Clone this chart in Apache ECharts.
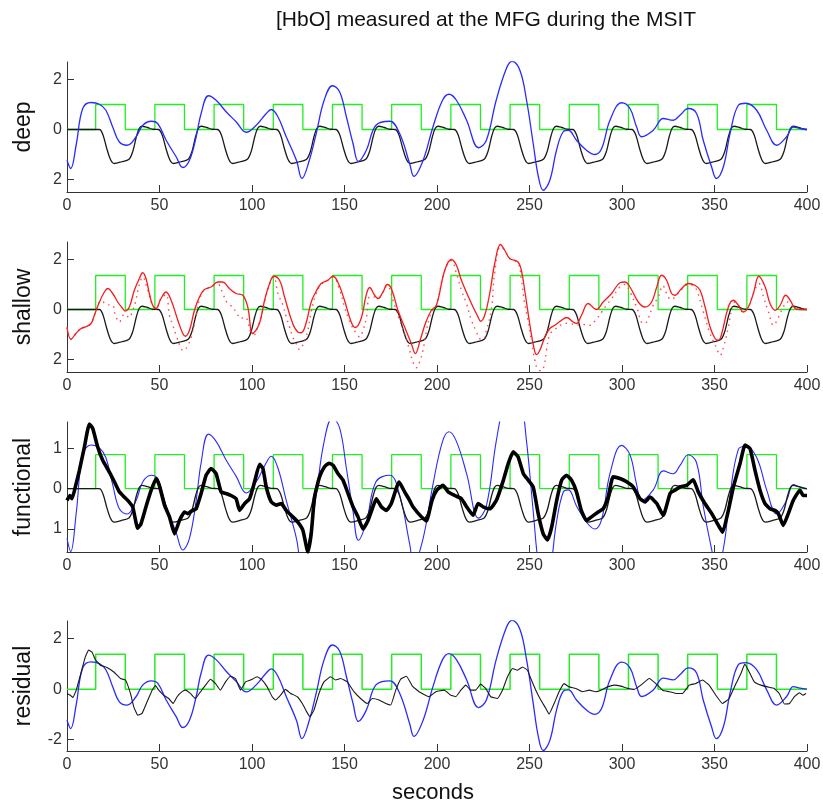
<!DOCTYPE html>
<html>
<head>
<meta charset="utf-8">
<script src="https://cdn.jsdelivr.net/npm/echarts@6/dist/echarts.min.js"></script>
<style>
html,body{margin:0;padding:0;background:#fff;}
#chart{width:823px;height:803px;}
</style>
</head>
<body>
<div id="chart"></div>
<script>
// ---- data ----
const xTicks = [0, 50, 100, 150, 200, 250, 300, 350, 400];
const blockOn  = [15.5, 47.5, 79.5, 111.5, 143.5, 175.5, 207.5, 239.5, 271.5, 303.5, 335.5, 367.5];
const blockOff = [31.5, 63.5, 95.5, 127.5, 159.5, 191.5, 223.5, 255.5, 287.5, 319.5, 351.5, 383.5];
const boxHeight = [1.0, 1.36, 0.84, 1.38];   // green stimulus height in each panel
const funcModelScale = 0.61;                 // model amplitude in the functional panel

const model = [
[0,0],
[17.5,0],[19.5,-0.23],[21.5,-0.76],[23.5,-1.2],[25.5,-1.36],[29.5,-1.29],[33.5,-1.19],[35.5,-0.89],[37.5,-0.29],[39,0.04],[40.5,0.13],[43.5,0.08],[46.5,0.01],
[49.5,0],[51.5,-0.23],[53.5,-0.76],[55.5,-1.2],[57.5,-1.36],[61.5,-1.29],[65.5,-1.19],[67.5,-0.89],[69.5,-0.29],[71,0.04],[72.5,0.13],[75.5,0.08],[78.5,0.01],
[81.5,0],[83.5,-0.23],[85.5,-0.76],[87.5,-1.2],[89.5,-1.36],[93.5,-1.29],[97.5,-1.19],[99.5,-0.89],[101.5,-0.29],[103,0.04],[104.5,0.13],[107.5,0.08],[110.5,0.01],
[113.5,0],[115.5,-0.23],[117.5,-0.76],[119.5,-1.2],[121.5,-1.36],[125.5,-1.29],[129.5,-1.19],[131.5,-0.89],[133.5,-0.29],[135,0.04],[136.5,0.13],[139.5,0.08],[142.5,0.01],
[145.5,0],[147.5,-0.23],[149.5,-0.76],[151.5,-1.2],[153.5,-1.36],[157.5,-1.29],[161.5,-1.19],[163.5,-0.89],[165.5,-0.29],[167,0.04],[168.5,0.13],[171.5,0.08],[174.5,0.01],
[177.5,0],[179.5,-0.23],[181.5,-0.76],[183.5,-1.2],[185.5,-1.36],[189.5,-1.29],[193.5,-1.19],[195.5,-0.89],[197.5,-0.29],[199,0.04],[200.5,0.13],[203.5,0.08],[206.5,0.01],
[209.5,0],[211.5,-0.23],[213.5,-0.76],[215.5,-1.2],[217.5,-1.36],[221.5,-1.29],[225.5,-1.19],[227.5,-0.89],[229.5,-0.29],[231,0.04],[232.5,0.13],[235.5,0.08],[238.5,0.01],
[241.5,0],[243.5,-0.23],[245.5,-0.76],[247.5,-1.2],[249.5,-1.36],[253.5,-1.29],[257.5,-1.19],[259.5,-0.89],[261.5,-0.29],[263,0.04],[264.5,0.13],[267.5,0.08],[270.5,0.01],
[273.5,0],[275.5,-0.23],[277.5,-0.76],[279.5,-1.2],[281.5,-1.36],[285.5,-1.29],[289.5,-1.19],[291.5,-0.89],[293.5,-0.29],[295,0.04],[296.5,0.13],[299.5,0.08],[302.5,0.01],
[305.5,0],[307.5,-0.23],[309.5,-0.76],[311.5,-1.2],[313.5,-1.36],[317.5,-1.29],[321.5,-1.19],[323.5,-0.89],[325.5,-0.29],[327,0.04],[328.5,0.13],[331.5,0.08],[334.5,0.01],
[337.5,0],[339.5,-0.23],[341.5,-0.76],[343.5,-1.2],[345.5,-1.36],[349.5,-1.29],[353.5,-1.19],[355.5,-0.89],[357.5,-0.29],[359,0.04],[360.5,0.13],[363.5,0.08],[366.5,0.01],
[369.5,0],[371.5,-0.23],[373.5,-0.76],[375.5,-1.2],[377.5,-1.36],[381.5,-1.29],[385.5,-1.19],[387.5,-0.89],[389.5,-0.29],[391,0.04],[392.5,0.13],[395.5,0.08],[398.5,0.01],[400,0]
];

const deep = [
[0,-1.23],[2,-1.56],[5,-0.6],[8.5,0.84],[13,1.08],[17.5,1.01],[21,0.77],[24.7,0.1],[28.3,-0.5],[32.5,-0.63],[37.3,-0.3],[41,0.17],[45.5,0.33],[49,0.24],[53.6,-0.43],[59,-1.09],[62.6,-1.52],[66.2,-1.23],[69.8,-0.3],[72.5,0.64],[76.5,1.35],[80.6,1.17],[86,0.71],[91.4,0.31],[96.9,-0.11],[102.3,0.17],[107.7,0.64],[110.4,0.8],[114,0.51],[118.5,-0.29],[124,-1.23],[127,-1.96],[131,-1.23],[134.7,-0.16],[139,1.17],[143.5,1.75],[147.4,1.5],[151,0.51],[154.6,-0.56],[157.5,-1.28],[161.8,-0.83],[167,0.17],[174.5,0.33],[179.8,-0.16],[185.2,-1.36],[187.5,-1.87],[192.5,-1.23],[197.8,0.1],[203,1.17],[206.5,1.41],[210.5,1.17],[216,0.37],[222.5,-0.73],[226.7,-0.43],[232,1.17],[237.5,2.44],[240.5,2.73],[244.8,2.37],[248.4,1.17],[252,-0.56],[254.8,-1.89],[257.4,-2.43],[261,-2.03],[264.6,-0.83],[268.2,-0.09],[271,-0.03],[275.4,-0.43],[280.8,-0.83],[285.3,-1.0],[289,-0.76],[293.5,0.37],[299.8,1.07],[304.3,0.84],[307.9,0.1],[310.6,-0.29],[316.9,-0.03],[322.3,0.44],[327.7,0.37],[331.3,0.57],[335.8,0.84],[340.3,0.64],[343.9,-0.43],[348.4,-1.49],[351,-1.96],[354.8,-1.49],[358.4,-0.16],[362.9,0.97],[367,1.05],[372.8,0.77],[378.2,-0.03],[383.6,-0.63],[389,-0.29],[392.6,0.1],[396.2,0.04],[400,0]
];

const shallow = [
[0,-0.72],[2.2,-1.19],[4.8,-0.96],[7.6,-0.76],[10.3,-0.69],[13,-0.56],[14.8,-0.23],[17.5,0.3],[20.2,0.7],[22,0.84],[24.7,0.64],[27.4,0.3],[30.1,0.04],[31.5,-0.06],[33.7,0.1],[36.4,0.77],[39.1,1.24],[40.9,1.47],[42.7,1.24],[44.5,0.64],[46.3,0.17],[48.1,0.04],[50.8,0.44],[53.5,0.7],[56.3,0.37],[59.9,-0.43],[62.6,-0.96],[64,-1.07],[66.2,-0.83],[68.9,-0.03],[71.6,0.5],[74.3,0.8],[77.9,0.9],[81.5,1.1],[84.2,1.1],[87.8,0.84],[91.4,0.64],[95,0.57],[97.7,0.1],[100.4,-0.96],[104,-0.56],[106.8,0.37],[109.5,1.04],[111.8,1.33],[114.9,1.17],[117.6,0.5],[122,-0.56],[124.8,-0.9],[126.6,-0.93],[129,-0.6],[132,0.3],[134.5,0.7],[137.4,1.04],[141,1.17],[143.8,1.33],[146.4,1.1],[150,0.37],[153.6,-0.5],[155.8,-0.72],[159,-0.36],[161.7,0.57],[163.6,0.88],[166.3,0.57],[168.1,0.44],[170.8,0.7],[173.1,1.0],[175.3,0.84],[178.9,-0.03],[182.5,-0.7],[186.1,-1.36],[188.3,-1.76],[191,-1.2],[194,-0.5],[197,-0.03],[199.7,0.17],[204.2,1.57],[207.8,2.0],[210.5,1.77],[213.2,1.17],[218.6,0.24],[222.2,-0.3],[223.5,-0.47],[225.8,-0.23],[228.5,0.64],[231.2,1.84],[234.3,2.6],[236.6,2.37],[239.3,2.04],[243.8,1.9],[245.6,1.57],[247.4,0.77],[250.1,-0.56],[252.3,-1.5],[253.8,-1.8],[255.6,-1.63],[258.3,-1.1],[261,-0.76],[263.7,-0.63],[267.3,-0.43],[270,-0.32],[273.6,-0.5],[275.4,-0.56],[278.1,-0.23],[281.7,0.24],[286.2,0.0],[289.8,0.3],[294.4,0.64],[298.9,1.07],[301.6,1.1],[304.3,0.9],[308.8,0.3],[312.4,0.1],[316,0.3],[318.8,0.9],[321.4,1.37],[324.1,1.17],[326.8,0.64],[328.6,0.57],[332.2,0.84],[335.8,1.04],[339.4,0.97],[342.2,0.77],[344.9,0.1],[347.6,-0.7],[350.3,-1.16],[352.1,-1.23],[353.9,-0.96],[357.5,0.1],[360.2,0.37],[362.9,0.17],[365.6,-0.1],[368.3,0.1],[371,0.64],[374,1.33],[377.4,0.9],[380,0.24],[382.8,-0.03],[385.5,0.17],[388.5,0.57],[390.9,0.37],[393.6,0.04],[396,0.0],[400,0.0]
];

const shallowDotted = [
[0,-0.72],[2.2,-1.19],[4.8,-0.96],[7.6,-0.76],[10.3,-0.69],[13,-0.56],[14.8,-0.23],[17.5,0.3],[19,0.33],[21,0.2],[24.7,0.17],[25.6,-0.1],[28.3,-0.5],[31,-0.19],[33.7,-0.32],[35.2,-0.1],[37,0.3],[39.1,1.0],[41,1.3],[43.1,0.9],[44.5,0.57],[46.3,0.17],[48.1,0.04],[50.8,0.44],[53.5,0.6],[55.4,-0.23],[57.2,-0.63],[59,-1.03],[61.7,-1.56],[62.9,-1.65],[65.3,-1.43],[67.1,-1.1],[68.9,-0.56],[70.1,-0.1],[71.6,0.4],[74.3,0.8],[77.9,0.9],[81.5,1.0],[82.4,0.97],[84.2,0.64],[86.9,0.24],[89.6,0.1],[91.4,-0.1],[94.1,-0.36],[95.9,-0.3],[97.7,-0.45],[98.8,-0.83],[100.4,-0.96],[101.5,-1.0],[103,-0.7],[104.5,-0.4],[106.8,0.3],[109.5,1.0],[111.8,1.3],[114,0.64],[116.7,0.17],[118.5,-0.3],[120.3,-0.7],[122,-1.1],[123.9,-1.36],[125.7,-1.6],[128.5,-1.23],[130.2,-0.83],[132,-0.1],[134.5,0.6],[137.4,1.0],[141,1.17],[143.8,1.3],[147.4,0.77],[150,0.1],[151.9,-0.3],[153.7,-0.63],[156.4,-0.96],[158.2,-1.1],[160,-0.83],[161.9,-0.3],[163.6,0.5],[166.3,0.5],[168.1,0.44],[170.8,0.7],[173.1,0.95],[176.2,0.37],[179.8,-0.43],[182.5,-0.96],[185.2,-1.63],[187,-2.1],[188.8,-2.33],[190.6,-2.1],[192.4,-1.63],[194.2,-0.9],[196,-0.3],[197.5,-0.03],[199.7,0.17],[204.2,1.57],[207.8,1.95],[210.5,1.44],[213.2,0.77],[215.9,0.24],[218.6,-0.43],[221.3,-0.9],[223,-1.16],[224.9,-1.2],[226.7,-0.83],[229.4,0.0],[231.2,1.5],[234.3,2.5],[236.6,2.37],[239.3,2.04],[243.8,1.85],[245.6,1.17],[247.4,0.24],[249.2,-0.43],[251,-1.23],[252.8,-2.0],[254.5,-2.4],[256.5,-2.45],[258,-2.2],[259.2,-1.63],[261,-1.0],[263.7,-0.8],[267.3,-0.6],[271,-0.55],[275.4,-0.62],[279,-0.6],[282.6,-0.63],[286,-0.4],[289,-0.1],[291.6,0.17],[294.4,0.44],[298.9,0.9],[301.6,1.0],[304.3,0.7],[307.9,0.1],[311.5,-0.56],[313.3,-0.5],[316.9,0.17],[319.6,0.5],[322,0.95],[325,0.5],[326.8,0.4],[328.6,0.5],[332.2,0.8],[335.8,1.0],[338.5,0.95],[340.4,0.77],[344,-0.1],[347.6,-0.96],[351.2,-1.56],[353,-1.83],[354.9,-1.5],[357.5,-0.7],[359.3,0.0],[361,0.3],[362.9,0.17],[365.6,-0.1],[368.3,0.1],[371,0.64],[374,1.04],[376.5,0.5],[379.2,-0.1],[381.9,-0.63],[384.6,-0.3],[387.2,0.1],[389.1,0.3],[392.7,0.1],[396,0.0],[400,0.0]
];

const functional = [
[0,-0.29],[1.6,-0.17],[2.7,-0.25],[4.5,0.04],[6.7,0.45],[9.4,1.03],[12.1,1.6],[13.9,1.49],[16.6,1.03],[19.3,0.7],[22.9,0.41],[25.6,0.17],[28.3,-0.08],[31,-0.21],[32.8,-0.29],[35.5,-0.45],[38.2,-0.98],[40,-0.87],[42.7,-0.45],[45.5,-0.04],[48.2,0.25],[49.9,0.08],[52.7,-0.41],[55.4,-0.7],[58.1,-1.12],[60.8,-0.79],[63.5,-0.58],[65.3,-0.62],[67.5,-0.55],[69.8,-0.5],[72.5,-0.12],[75.2,0.33],[77.9,0.5],[80.6,0.37],[83.3,-0.08],[86,-0.12],[88.7,-0.17],[91.4,-0.25],[93.3,-0.54],[96,-0.37],[98.7,-0.25],[101.4,0.17],[104.1,0.6],[105.9,0.5],[107.7,0.04],[110.4,-0.33],[113.1,-0.41],[115.8,-0.37],[118.5,-0.54],[122.1,-0.7],[124.8,-0.83],[127.5,-1.03],[130.2,-1.57],[132,-1.12],[133.8,-0.21],[136.5,0.29],[139.2,0.54],[141.6,0.63],[143.8,0.58],[146.5,0.37],[149.2,0.21],[151.9,-0.12],[154.6,-0.45],[157.3,-0.7],[160,-1.0],[162.7,-0.79],[165.4,-0.45],[167.2,-0.25],[169.9,-0.45],[172.6,-0.54],[175.3,-0.37],[179.5,0.16],[182.5,-0.08],[185.2,-0.29],[187,-0.45],[191.6,-0.7],[194.3,-0.8],[197.3,-0.29],[199.9,-0.04],[203.3,0.08],[206,-0.08],[209.6,-0.17],[213.2,-0.25],[216,-0.45],[219.5,-0.66],[222.2,-0.37],[224.9,-0.45],[228.6,-0.5],[232.1,-0.29],[235.9,0.21],[238.5,0.62],[241.2,0.91],[243.8,0.79],[246.7,0.37],[249.3,0.21],[252,0.04],[254.7,-0.62],[257.4,-1.12],[259.7,-1.27],[262,-0.95],[264.7,-0.29],[267.4,0.21],[270,0.33],[272.7,0.21],[275.4,-0.08],[278,-0.54],[280.8,-0.79],[283.5,-0.7],[287.1,-0.58],[289.8,-0.5],[292.5,-0.21],[295.2,0.29],[298.9,0.25],[302.5,0.17],[306.1,0.04],[309.7,-0.25],[312.4,-0.33],[315.1,-0.21],[318.8,-0.37],[322.3,-0.66],[326,-0.12],[328.6,-0.04],[331.3,0.04],[334.9,0.08],[338.5,0.22],[341.2,-0.08],[344.8,-0.37],[348.5,-0.62],[352.1,-0.91],[354.4,-1.08],[357.5,-0.54],[360.2,0.04],[363.8,0.62],[366.5,1.08],[369.2,0.99],[371.9,0.45],[374.6,-0.04],[377.3,-0.37],[380,-0.5],[382.7,-0.54],[384.5,-0.62],[387.2,-0.91],[389.9,-0.62],[392.6,-0.29],[396.2,-0.04],[398,-0.17],[400,-0.17]
];

const residual = [
[0,-0.17],[1.8,-0.24],[3.2,-0.33],[5,-0.04],[7.2,0.55],[9.9,1.28],[11.7,1.55],[13.5,1.47],[15.3,1.17],[18,0.95],[21.6,0.86],[25.3,0.68],[28.9,0.42],[31.6,0.36],[34.3,-0.17],[36.1,-0.7],[38.2,-1.03],[40.6,-0.96],[43.3,-0.5],[46,-0.04],[47.8,0.14],[49.6,-0.04],[52.3,-0.24],[55,-0.37],[57.4,-0.57],[59.5,-0.3],[62.2,-0.1],[64,-0.04],[66.7,-0.17],[69.4,-0.37],[72.2,-0.1],[74.9,0.16],[77.6,0.39],[80.3,0.22],[82.9,-0.04],[85.7,0.29],[88.4,0.51],[91.1,0.42],[93.8,-0.04],[96.5,0.29],[99.2,0.36],[102.8,0.49],[105.5,0.36],[108.2,0.09],[110.9,-0.3],[112.7,-0.43],[115.4,-0.24],[118.1,-0.01],[120.9,-0.17],[124.5,-0.3],[127.2,-0.57],[129.5,-0.89],[131.3,-1.09],[133.5,-0.83],[136.2,-0.17],[138.9,0.29],[142.5,0.49],[145.2,0.36],[147.9,0.42],[151.5,0.29],[155.1,-0.1],[158.7,-0.37],[162.3,-0.57],[165,-0.37],[168.7,-0.43],[172.3,-0.57],[175,-0.63],[177.7,-0.04],[180.4,0.4],[183.5,0.51],[186.7,0.12],[190.3,-0.1],[195.7,-0.3],[199.4,-0.1],[203.9,-0.04],[207.5,-0.24],[210.2,-0.3],[212.9,-0.04],[215.6,0.16],[218.2,-0.04],[220.9,-0.04],[223.6,0.2],[226.3,0.03],[229,-0.3],[232.7,-0.37],[235.4,-0.04],[238.1,0.49],[240.8,0.82],[243.5,0.75],[246.2,0.88],[248.9,0.75],[250.7,0.42],[253.4,-0.04],[256.1,-0.43],[258.8,-0.76],[260.6,-0.99],[263.3,-0.57],[266,-0.1],[268.7,0.22],[271.4,0.09],[275,0.03],[278.6,-0.1],[282.3,-0.04],[285.9,-0.1],[288.6,-0.04],[292.2,0.09],[295.8,0.16],[299.4,0.12],[303,0.03],[306.6,-0.01],[310.2,0.16],[314.7,0.42],[318.3,0.22],[321.9,-0.04],[325.5,-0.1],[329.1,-0.17],[332.7,-0.17],[336.3,0.16],[339.9,0.22],[343.5,0.36],[347.1,0.16],[350.7,-0.24],[354.3,-0.57],[357.9,-0.37],[361.6,0.22],[364.3,0.62],[366.4,0.99],[368.8,0.68],[371.5,0.29],[375.1,0.16],[378.7,0.09],[382.3,0.03],[385,-0.17],[387.8,-0.59],[390.5,-0.57],[393.2,-0.3],[395.9,-0.14],[397.7,-0.24],[399.5,-0.17]
];

const panelNames = ['deep', 'shallow', 'functional', 'residual'];
const yRanges = [[-2.5, 2.7], [-2.5, 2.7], [-1.57, 1.65], [-2.45, 2.7]];
const yTickValues = [[-2, 0, 2], [-2, 0, 2], [-1, 0, 1], [-2, 0, 2]];
const yTickLabels = [['2', '0', '2'], ['2', '0', '2'], ['1', '0', '1'], ['-2', '0', '2']];

// ---- build chart ----
function boxcar(h) {
  const d = [[0, 0]];
  blockOn.forEach((on, i) => { d.push([on, 0], [on, h], [blockOff[i], h], [blockOff[i], 0]); });
  d.push([400, 0]);
  return d;
}

const FONT = 'Liberation Sans, Arial, sans-serif';
const gridTops = [62, 242, 422, 621];
const grids = gridTops.map(t => ({left: 67, width: 740, top: t, height: 130, containLabel: false, outerBoundsMode: 'none'}));

const xAxes = gridTops.map((t, i) => ({
  gridIndex: i, type: 'value', min: 0, max: 400, interval: 50,
  axisLine: {show: true, onZero: false, lineStyle: {color: '#333', width: 1}},
  axisTick: {show: true, inside: true, length: 7, lineStyle: {color: '#333', width: 1}},
  axisLabel: {color: '#333', fontSize: 16, fontFamily: FONT, margin: 6, showMinLabel: true, showMaxLabel: true},
  splitLine: {show: false},
  name: i === 3 ? 'seconds' : '', nameLocation: 'middle', nameGap: 31,
  nameTextStyle: {fontSize: 22, color: '#111', fontFamily: FONT, padding: [0, 8, 0, 0]}
}));

const yAxes = gridTops.map((t, i) => ({
  gridIndex: i, type: 'value', min: yRanges[i][0], max: yRanges[i][1],
  axisLine: {show: true, onZero: false, lineStyle: {color: '#333', width: 1}},
  axisTick: {show: true, inside: true, length: 7, customValues: yTickValues[i], lineStyle: {color: '#333', width: 1}},
  axisLabel: {color: '#333', fontSize: 16, fontFamily: FONT, margin: 5, customValues: yTickValues[i],
    formatter: v => { const k = yTickValues[i].indexOf(Math.round(v)); return k >= 0 ? yTickLabels[i][k] : ''; }},
  splitLine: {show: false},
  name: panelNames[i], nameLocation: 'middle', nameRotate: 90, nameGap: 32,
  nameTextStyle: {fontSize: 23, color: '#111', fontFamily: FONT}
}));

function line(data, idx, color, width, extra) {
  return Object.assign({
    type: 'line', data: data, xAxisIndex: idx, yAxisIndex: idx,
    showSymbol: false, symbol: 'none', clip: true, animation: false, silent: true,
    lineStyle: {color: color, width: width}
  }, extra || {});
}

const GREEN = '#22ee22', BLUE = '#2a2aff', RED = '#f41c1c', BLACK = '#1a1a1a';
const funcModel = model.map(p => [p[0], p[1] * funcModelScale]);

const series = [
  // panel 1: deep
  line(boxcar(boxHeight[0]), 0, GREEN, 1.3),
  line(model, 0, BLACK, 1.3, {smooth: 0.3}),
  line(deep, 0, BLUE, 1.3, {smooth: 0.4}),
  // panel 2: shallow
  line(boxcar(boxHeight[1]), 1, GREEN, 1.3),
  line(model, 1, BLACK, 1.3, {smooth: 0.3}),
  line(shallowDotted, 1, RED, 1.3, {smooth: 0.4, lineStyle: {color: '#ff4a4a', width: 1.4, type: [1.5, 4.5]}}),
  line(shallow, 1, RED, 1.3, {smooth: 0.4}),
  // panel 3: functional
  line(boxcar(boxHeight[2]), 2, GREEN, 1.3),
  line(deep, 2, BLUE, 1.1, {smooth: 0.4}),
  line(funcModel, 2, BLACK, 1.3, {smooth: 0.3}),
  line(functional, 2, '#000', 3.6, {smooth: 0.15, lineStyle: {color: '#000', width: 3.6, join: 'round'}}),
  // panel 4: residual
  line(boxcar(boxHeight[3]), 3, GREEN, 1.5),
  line(deep, 3, BLUE, 1.3, {smooth: 0.4}),
  line(residual, 3, BLACK, 1.1, {smooth: 0.1})
];

const chart = echarts.init(document.getElementById('chart'), null, {renderer: 'canvas'});
chart.setOption({
  animation: false,
  backgroundColor: '#fff',
  title: {text: '[HbO] measured at the MFG during the MSIT', left: 271, top: 5,
    textStyle: {fontSize: 21, fontWeight: 'normal', color: '#111', fontFamily: FONT}},
  grid: grids,
  xAxis: xAxes,
  yAxis: yAxes,
  series: series
});
</script>
</body>
</html>
